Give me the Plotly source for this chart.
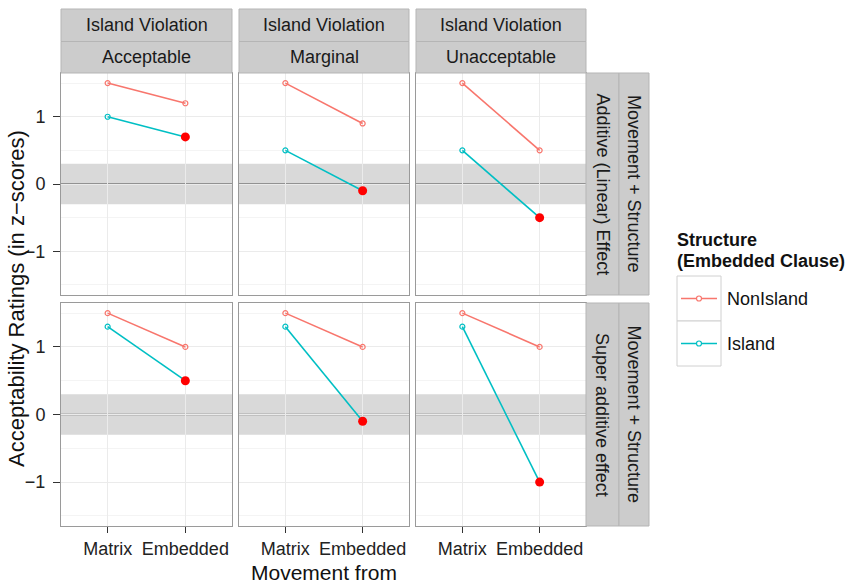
import plotly.graph_objects as go

# ---- data -------------------------------------------------------------
movement = ["Matrix", "Embedded"]
violation = ["Acceptable", "Marginal", "Unacceptable"]
effect = ["Additive (Linear) Effect", "Super additive effect"]

# mean z-scores, [effect][violation] -> [Matrix, Embedded]
nonisland = [
    [[1.5, 1.2], [1.5, 0.9], [1.5, 0.5]],
    [[1.5, 1.0], [1.5, 1.0], [1.5, 1.0]],
]
island = [
    [[1.0, 0.7], [0.5, -0.1], [0.5, -0.5]],
    [[1.3, 0.5], [1.3, -0.1], [1.3, -1.0]],
]
band = [-0.3, 0.3]

# ---- layout geometry (pixels) -----------------------------------------
W, H = 852, 583
col_px = [(61, 232), (239, 409), (416, 586)]
row_px = [(73, 295), (303, 526)]


def fx(px):
    return px / W


def fy(py):
    return 1 - py / H


FONT = "Liberation Sans, Arial, Helvetica, sans-serif"
C_NON = "#F8766D"
C_ISL = "#00BFC4"

fig = go.Figure()
layout = dict(
    width=W, height=H, margin=dict(l=0, r=0, t=0, b=0),
    paper_bgcolor="white", plot_bgcolor="white",
    showlegend=False, font=dict(family=FONT, size=18, color="#222222"),
)
shapes, annotations = [], []

for r in range(2):
    for c in range(3):
        i = r * 3 + c + 1
        sfx = "" if i == 1 else str(i)
        xa, ya = f"x{sfx}", f"y{sfx}"
        xk, yk = f"xaxis{sfx}", f"yaxis{sfx}"
        layout[xk] = dict(
            domain=[fx(col_px[c][0]), fx(col_px[c][1])], anchor=ya,
            type="category", categoryorder="array", categoryarray=movement,
            range=[-0.6, 1.6], showgrid=True, gridcolor="#EBEBEB", gridwidth=1,
            showline=True, mirror=True, linecolor="#9A9A9A", linewidth=1,
            zeroline=False,
            ticks="outside" if r == 1 else "", ticklen=6, tickcolor="#333333",
            showticklabels=(r == 1), tickfont=dict(size=18, color="#222222"),
            ticklabelstandoff=0,
        )
        layout[yk] = dict(
            domain=[fy(row_px[r][1]), fy(row_px[r][0])], anchor=xa,
            range=[-1.65, 1.65], tickvals=[-1, 0, 1], ticktext=["\u22121", "0", "1"],
            showgrid=True, gridcolor="#EBEBEB", gridwidth=1,
            minor=dict(tickvals=[-1.5, -0.5, 0.5, 1.5], showgrid=True,
                       gridcolor="#F4F4F4", gridwidth=0.8),
            showline=True, mirror=True, linecolor="#9A9A9A", linewidth=1,
            zeroline=False,
            ticks="outside" if c == 0 else "", ticklen=7, tickcolor="#333333",
            showticklabels=(c == 0), tickfont=dict(size=18, color="#222222"),
            ticklabelstandoff=4,
        )

        # reference band and zero line
        shapes.append(dict(type="rect", xref=f"{xa} domain", yref=ya,
                           x0=0, x1=1, y0=band[0], y1=band[1],
                           fillcolor="#D9D9D9", line=dict(width=0), layer="below"))
        shapes.append(dict(type="line", xref=f"{xa} domain", yref=ya,
                           x0=0, x1=1, y0=0, y1=0,
                           line=dict(color="#7A7A7A", width=1.3), layer="below"))

        for vals, col in ((nonisland[r][c], C_NON), (island[r][c], C_ISL)):
            fig.add_trace(go.Scatter(
                x=movement, y=vals, xaxis=xa, yaxis=ya, mode="lines+markers",
                line=dict(color=col, width=1.6),
                marker=dict(symbol="circle-open", size=5, color=col,
                            line=dict(width=1.2, color=col)),
                hoverinfo="skip"))
        # highlighted Island/Embedded cell
        fig.add_trace(go.Scatter(
            x=[movement[1]], y=[island[r][c][1]], xaxis=xa, yaxis=ya,
            mode="markers", marker=dict(symbol="circle", size=9, color="#FF0000"),
            hoverinfo="skip"))

# ---- facet strips -----------------------------------------------------
STRIP_FILL = "#CCCCCC"
STRIP_LINE = "#B5B5B5"


def strip(x0, y0, x1, y1, text, angle=0):
    shapes.append(dict(type="rect", xref="paper", yref="paper",
                       x0=fx(x0), x1=fx(x1), y0=fy(y1), y1=fy(y0),
                       fillcolor=STRIP_FILL, line=dict(color=STRIP_LINE, width=1),
                       layer="above"))
    annotations.append(dict(xref="paper", yref="paper",
                            x=fx((x0 + x1) / 2), y=fy((y0 + y1) / 2),
                            text=text, showarrow=False, textangle=angle,
                            xanchor="center", yanchor="middle",
                            font=dict(size=18, color="#1A1A1A")))


for c in range(3):
    x0, x1 = col_px[c]
    strip(x0, 9, x1, 41.5, "Island Violation")
    strip(x0, 41.5, x1, 73, violation[c])

for r in range(2):
    y0, y1 = row_px[r]
    strip(586, y0, 619, y1, effect[r], angle=90)
    strip(619, y0, 649, y1, "Movement + Structure", angle=90)

# ---- axis titles ------------------------------------------------------
annotations.append(dict(xref="paper", yref="paper", x=fx(17), y=fy(299),
                        text="Acceptability Ratings (in z\u2212scores)",
                        textangle=-90, showarrow=False,
                        xanchor="center", yanchor="middle",
                        font=dict(size=22, color="#111111")))
annotations.append(dict(xref="paper", yref="paper", x=fx(324), y=fy(572),
                        text="Movement from", showarrow=False,
                        xanchor="center", yanchor="middle",
                        font=dict(size=21, color="#111111")))

# ---- legend -----------------------------------------------------------
annotations.append(dict(xref="paper", yref="paper", x=fx(675), y=fy(240),
                        text="<b>Structure</b>", showarrow=False,
                        xanchor="left", yanchor="middle",
                        font=dict(size=18, color="#111111")))
annotations.append(dict(xref="paper", yref="paper", x=fx(675), y=fy(261),
                        text="<b>(Embedded Clause)</b>", showarrow=False,
                        xanchor="left", yanchor="middle",
                        font=dict(size=18, color="#111111")))

legend_items = [("NonIsland", C_NON), ("Island", C_ISL)]
key_top, key_h = 276, 45
for k, (label, col) in enumerate(legend_items):
    ky0 = key_top + k * key_h
    kyc = ky0 + key_h / 2
    shapes.append(dict(type="rect", xref="paper", yref="paper",
                       x0=fx(677), x1=fx(721), y0=fy(ky0 + key_h), y1=fy(ky0),
                       fillcolor="white", line=dict(color="#D0D0D0", width=1)))
    shapes.append(dict(type="line", xref="paper", yref="paper",
                       x0=fx(681), x1=fx(717), y0=fy(kyc), y1=fy(kyc),
                       line=dict(color=col, width=1.6)))
    shapes.append(dict(type="circle", xref="paper", yref="paper",
                       x0=fx(696.5), x1=fx(701.5), y0=fy(kyc + 2.5), y1=fy(kyc - 2.5),
                       fillcolor="white", line=dict(color=col, width=1.2)))
    annotations.append(dict(xref="paper", yref="paper", x=fx(725), y=fy(kyc),
                            text=label, showarrow=False,
                            xanchor="left", yanchor="middle",
                            font=dict(size=18, color="#111111")))

layout["shapes"] = shapes
layout["annotations"] = annotations
fig.update_layout(**layout)
fig.write_html("out.html")
